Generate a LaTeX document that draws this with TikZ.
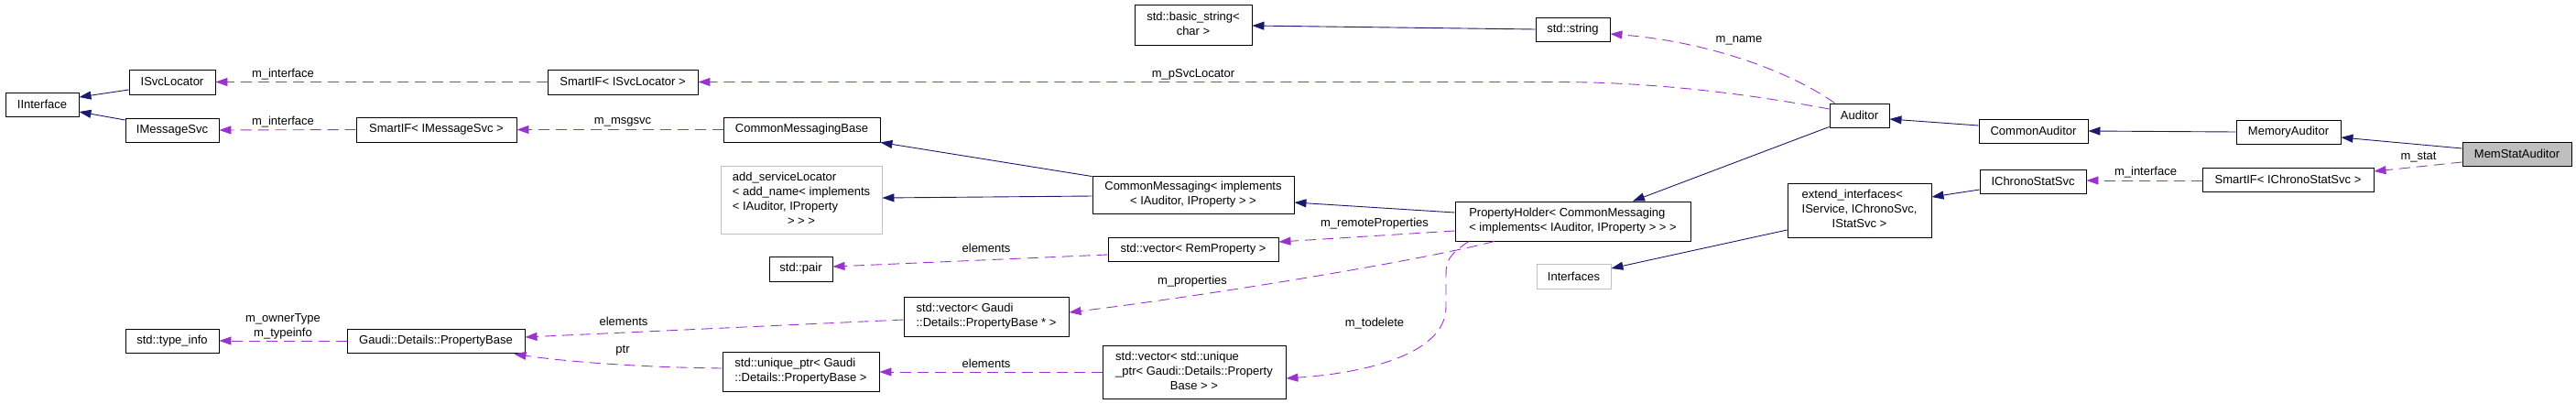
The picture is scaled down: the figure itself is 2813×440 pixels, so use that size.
\documentclass[tikz,border=0pt]{standalone}
\usepackage{fontspec}
\setmainfont{Liberation Sans}
\usetikzlibrary{arrows.meta,calc}
\definecolor{inh}{HTML}{191970}
\definecolor{usecol}{HTML}{9A32CD}
\definecolor{gbord}{HTML}{BFBFBF}
\newcommand{\mlines}[1]{\begin{tabular}{@{}l@{}}#1\end{tabular}}
\newcommand{\clines}[1]{\begin{tabular}{@{}c@{}}#1\end{tabular}}
\newcommand{\clast}[1]{\multicolumn{1}{@{}c@{}}{#1}}
\begin{document}
\begin{tikzpicture}[x=1pt,y=-1pt,
  box/.style={draw=black,line width=0.9pt,inner sep=0pt,font=\fontsize{13}{16}\selectfont},
  graybox/.style={box,draw=gbord},
  lbl/.style={inner sep=0pt,font=\fontsize{13}{16}\selectfont},
  inhe/.style={draw=inh,line width=0.9pt,-{Triangle[length=13pt,width=9pt]}},
  usee/.style={draw=usecol,line width=0.9pt,dash pattern=on 12pt off 7pt,-{Triangle[length=13pt,width=9pt]}},
]
\path[use as bounding box, fill=white] (0,0) rectangle (2813,440);

% nodes
\node[box,minimum width=80pt,minimum height=26pt] (IInterface) at (46,114) {IInterface};
\node[box,minimum width=94pt,minimum height=27pt] (ISvcLocator) at (188,89.5) {ISvcLocator};
\node[box,minimum width=102pt,minimum height=26pt] (IMessageSvc) at (188,142) {IMessageSvc};
\node[box,minimum width=164pt,minimum height=27pt] (SmartIFSL) at (680,89.5) {SmartIF< ISvcLocator >};
\node[box,minimum width=175pt,minimum height=27pt] (SmartIFMS) at (476.5,141.5) {SmartIF< IMessageSvc >};
\node[box,minimum width=171pt,minimum height=27pt] (CMB) at (875.5,141.5) {CommonMessagingBase};
\node[graybox,minimum width=176pt,minimum height=74pt] (addSL) at (875,218) {\mlines{add\_serviceLocator\\< add\_name< implements\\< IAuditor, IProperty\\\clast{> > >}}};
\node[box,minimum width=69pt,minimum height=27pt] (pair) at (874.5,293.5) {std::pair};
\node[box,minimum width=102pt,minimum height=26pt] (typeinfo) at (188,372) {std::type\_info};
\node[box,minimum width=194pt,minimum height=26pt] (PB) at (476,372) {Gaudi::Details::PropertyBase};
\node[box,minimum width=180pt,minimum height=43pt] (vecPB) at (1077,345.5) {\mlines{std::vector< Gaudi\\::Details::PropertyBase * >}};
\node[box,minimum width=171pt,minimum height=43pt] (uptr) at (874.5,405.5) {\mlines{std::unique\_ptr< Gaudi\\::Details::PropertyBase >}};
\node[box,minimum width=128pt,minimum height=44pt] (bstr) at (1303,27) {\clines{std::basic\_string<\\char >}};
\node[box,minimum width=81pt,minimum height=26pt] (str) at (1717.5,32) {std::string};
\node[box,minimum width=220pt,minimum height=41pt] (CM) at (1303,212.5) {\mlines{CommonMessaging< implements\\\clast{< IAuditor, IProperty > >}}};
\node[box,minimum width=186pt,minimum height=26pt] (vecRP) at (1303,272.5) {std::vector< RemProperty >};
\node[box,minimum width=200pt,minimum height=58pt] (vecUP) at (1304,406) {\mlines{std::vector< std::unique\\\_ptr< Gaudi::Details::Property\\\clast{Base > >}}};
\node[box,minimum width=257pt,minimum height=43pt] (PH) at (1717.5,241.5) {\mlines{PropertyHolder< CommonMessaging\\< implements< IAuditor, IProperty > > >}};
\node[graybox,minimum width=81pt,minimum height=27pt] (Interfaces) at (1718.5,301.5) {Interfaces};
\node[box,minimum width=65pt,minimum height=26pt] (Auditor) at (2030.5,126) {Auditor};
\node[box,minimum width=157pt,minimum height=59pt] (ext) at (2030.5,229.5) {\mlines{extend\_interfaces<\\IService, IChronoSvc,\\\clast{IStatSvc >}}};
\node[box,minimum width=119pt,minimum height=26pt] (CA) at (2220.5,143) {CommonAuditor};
\node[box,minimum width=116pt,minimum height=26pt] (ICSS) at (2220,198) {IChronoStatSvc};
\node[box,minimum width=114pt,minimum height=26pt] (MA) at (2499,144) {MemoryAuditor};
\node[box,minimum width=187pt,minimum height=26pt] (SIC) at (2498.5,196) {SmartIF< IChronoStatSvc >};
\node[box,fill=gbord,minimum width=119pt,minimum height=26pt] (MSA) at (2748.5,168) {MemStatAuditor};

% inheritance edges
\draw[inhe] ($(ISvcLocator.west)+(0,8.5)$) -- ($(IInterface.east)+(0,-8)$);
\draw[inhe] ($(IMessageSvc.west)+(0,-11)$) -- ($(IInterface.east)+(0,8)$);
\draw[inhe] (str.west) -- ($(bstr.east)+(0,1)$);
\draw[inhe] ($(CM.north west)+(0,1)$) -- (CMB.south east);
\draw[inhe] ($(CM.west)+(0,1.5)$) -- ($(addSL.east)+(0,-2)$);
\draw[inhe] ($(PH.west)+(0,-9.5)$) -- ($(CM.east)+(0,8.5)$);
\draw[inhe] ($(Auditor.south west)+(0,-1)$) -- ($(PH.north)+(65.5,0)$);
\draw[inhe] ($(CA.west)+(0,-6)$) -- ($(Auditor.east)+(0,4)$);
\draw[inhe] (MA.west) -- (CA.east);
\draw[inhe] ($(MSA.west)+(0,-6)$) -- ($(MA.east)+(0,6)$);
\draw[inhe] ($(ext.west)+(0,21.5)$) -- ($(Interfaces.east)+(0,-8.5)$);
\draw[inhe] ($(ICSS.west)+(0,9)$) -- ($(ext.east)+(0,-14.5)$);

% usage edges
\coordinate (pslbend) at (1700,89.5);
\coordinate (td1) at (1579,300);
\coordinate (td2) at (1579,335);
\draw[usee] (SmartIFSL.west) -- (ISvcLocator.east);
\draw[usee] (SmartIFMS.west) -- (IMessageSvc.east);
\draw[usee] (CMB.west) -- (SmartIFMS.east);
\draw[usee] ($(Auditor.west)+(0,-7)$) .. controls (1900,101) and (1800,89.5) .. (pslbend) -- (SmartIFSL.east);
\draw[usee] ($(Auditor.north west)+(6,0)$) .. controls (1950,75) and (1860,45) .. ($(str.east)+(0,5)$);
\draw[usee] ($(PH.west)+(0,10.5)$) -- ($(vecRP.east)+(0,-8.5)$);
\draw[usee] ($(vecRP.west)+(0,5.5)$) -- ($(pair.east)+(0,-2.5)$);
\draw[usee] ($(PH.south)+(-85.5,0)$) .. controls (1540,287) and (1300,325) .. ($(vecPB.east)+(0,-4.5)$);
\draw[usee] ($(PH.south)+(-113.5,0)$) .. controls (1582,278) and (1579,285) .. (td1) -- (td2) .. controls (1579,390) and (1480,408) .. ($(vecUP.east)+(0,7)$);
\draw[usee] ($(vecPB.west)+(0,3.5)$) -- ($(PB.east)+(0,-4)$);
\draw[usee] (vecUP.west) -- ($(uptr.east)+(0,0.5)$);
\draw[usee] ($(uptr.west)+(0,-3.5)$) .. controls (700,401) and (620,395) .. ($(PB.south east)+(-12,1)$);
\draw[usee] (PB.west) -- (typeinfo.east);
\draw[usee] ($(MSA.west)+(0,9)$) -- ($(SIC.east)+(0,-9)$);
\draw[usee] ($(SIC.west)+(0,1)$) -- ($(ICSS.east)+(0,-1)$);

% labels
\node[lbl] (lmi1) at (309,81) {m\_interface};
\node[lbl] (lmi2) at (309,133) {m\_interface};
\node[lbl] (lmsg) at (680,133) {m\_msgsvc};
\node[lbl] (lpsl) at (1303,81) {m\_pSvcLocator};
\node[lbl] (lname) at (1899,44) {m\_name};
\node[lbl] (lrem) at (1501,244) {m\_remoteProperties};
\node[lbl] (lel1) at (1077,271) {elements};
\node[lbl] (lprop) at (1302,307) {m\_properties};
\node[lbl] (ltodel) at (1501,353) {m\_todelete};
\node[lbl] (lel2) at (1077,397) {elements};
\node[lbl] (lel3) at (681,351) {elements};
\node[lbl] (lptr) at (680,383) {ptr};
\node[lbl] (lown) at (309,356) {\clines{m\_ownerType\\m\_typeinfo}};
\node[lbl] (lstat) at (2641,172) {m\_stat};
\node[lbl] (lmi3) at (2343,188) {m\_interface};
\end{tikzpicture}
\end{document}
